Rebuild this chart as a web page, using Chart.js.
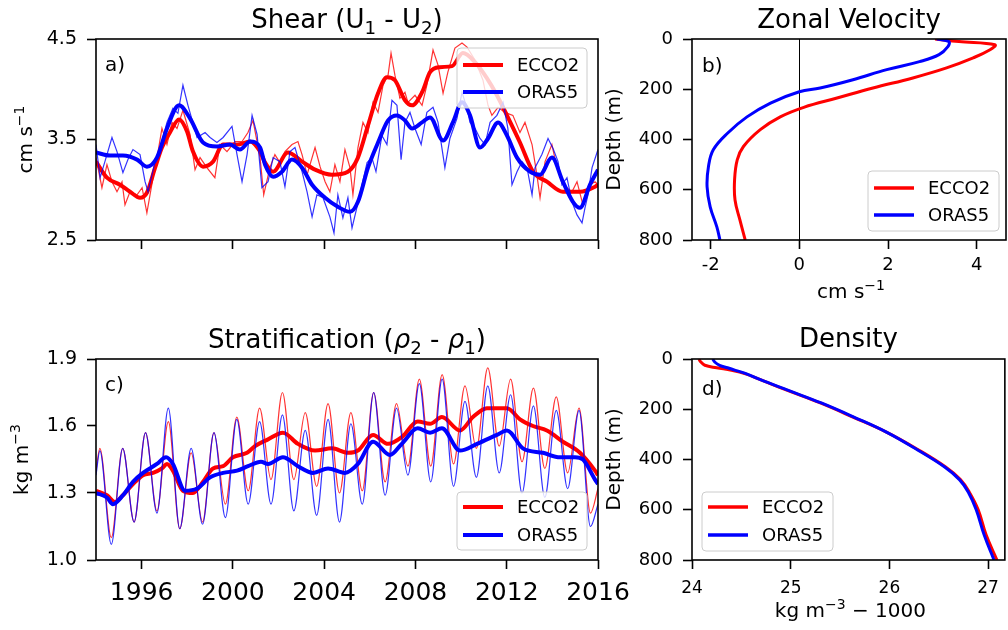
<!DOCTYPE html>
<html>
<head>
<meta charset="utf-8">
<title>ECCO2 / ORAS5 shear and stratification</title>
<script src="https://cdn.jsdelivr.net/npm/chart.js@4.4.1/dist/chart.umd.min.js"></script>
<style>
  html, body { margin: 0; padding: 0; background: #fff; }
  #fig { position: relative; width: 1008px; height: 630px; overflow: hidden; background: #fff; }
  #fig canvas { position: absolute; }
</style>
</head>
<body>
<div id="fig">
  <canvas id="shearChart" width="640" height="300" style="left:0;top:0;width:640px;height:300px"></canvas>
  <canvas id="stratChart" width="640" height="330" style="left:0;top:300px;width:640px;height:330px"></canvas>
  <canvas id="velChart" width="408" height="310" style="left:600px;top:0;width:408px;height:310px"></canvas>
  <canvas id="densChart" width="408" height="330" style="left:600px;top:300px;width:408px;height:330px"></canvas>
</div>
<script>
// ---- tick values / labels ----
const yearTicks = [1996, 2000, 2004, 2008, 2012, 2016];
const yearLabels = ['1996', '2000', '2004', '2008', '2012', '2016'];
const shearTicks = [2.5, 3.5, 4.5];
const shearLabels = ['2.5', '3.5', '4.5'];
const stratTicks = [1.0, 1.3, 1.6, 1.9];
const stratLabels = ['1.0', '1.3', '1.6', '1.9'];
const depthTicks = [0, 200, 400, 600, 800];
const depthLabels = ['0', '200', '400', '600', '800'];
const velTicks = [-2, 0, 2, 4];
const velLabels = ['-2', '0', '2', '4'];
const densTicks = [24, 25, 26, 27];
const densLabels = ['24', '25', '26', '27'];
const seriesNames = ['ECCO2', 'ORAS5'];

// ---- shear (U1 - U2), cm/s ----
const shearRawYearsEcco = [1994.00, 1994.26, 1994.48, 1994.70, 1994.92, 1995.14, 1995.27, 1995.49, 1995.80, 1996.02,
  1996.23, 1996.50, 1996.72, 1996.89, 1997.11, 1997.33, 1997.55, 1997.81, 1998.12, 1998.34,
  1998.56, 1998.86, 1999.21, 1999.43, 1999.74, 2000.09, 2000.40, 2000.66, 2000.88, 2001.19,
  2001.35, 2001.62, 2001.84, 2002.06, 2002.28, 2002.59, 2002.85, 2003.03, 2003.25, 2003.60,
  2003.82, 2004.04, 2004.25, 2004.47, 2004.69, 2004.91, 2005.13, 2005.26, 2005.48, 2005.70,
  2005.92, 2006.14, 2006.36, 2006.58, 2006.80, 2006.93, 2007.10, 2007.32, 2007.54, 2007.67,
  2007.98, 2008.29, 2008.50, 2008.77, 2008.99, 2009.21, 2009.42, 2009.73, 2010.04, 2010.26,
  2010.61, 2010.96, 2011.18, 2011.35, 2011.62, 2011.92, 2012.27, 2012.58, 2012.80, 2013.11,
  2013.32, 2013.46, 2013.68, 2013.98, 2014.20, 2014.46, 2014.86, 2015.08, 2015.34, 2015.65,
  2015.87, 2016.00];
const shearRawEcco = [3.32, 3.02, 3.25, 3.08, 2.98, 3.08, 2.85, 2.98, 2.95, 3.02,
  2.77, 3.12, 3.38, 3.61, 3.45, 3.67, 3.61, 3.79, 3.55, 3.20,
  3.32, 3.22, 3.12, 3.45, 3.38, 3.48, 3.48, 3.57, 3.69, 3.32,
  2.95, 3.22, 3.35, 3.27, 3.38, 3.45, 3.48, 3.35, 3.15, 3.42,
  3.23, 3.08, 2.98, 3.25, 3.08, 3.40, 3.22, 2.95, 3.42, 3.67,
  3.57, 3.87, 3.77, 4.04, 4.14, 4.36, 4.14, 3.91, 3.97, 3.87,
  3.94, 3.84, 4.04, 4.39, 4.24, 3.96, 4.17, 4.41, 4.46, 4.42,
  4.29, 4.09, 3.84, 3.74, 3.82, 3.77, 3.74, 3.57, 3.67, 3.45,
  3.15, 2.92, 3.28, 3.45, 3.22, 3.05, 2.98, 3.08, 2.85, 3.05,
  3.08, 3.05];

const shearRawYearsOras = [1994.00, 1994.18, 1994.39, 1994.70, 1994.92, 1995.18, 1995.40, 1995.62, 1995.93, 1996.15,
  1996.28, 1996.59, 1996.89, 1997.11, 1997.37, 1997.59, 1997.81, 1998.03, 1998.43, 1998.78,
  1999.00, 1999.30, 1999.57, 1999.96, 2000.18, 2000.40, 2000.62, 2000.84, 2001.06, 2001.27,
  2001.54, 2001.76, 2002.06, 2002.28, 2002.50, 2002.72, 2003.03, 2003.25, 2003.47, 2003.68,
  2003.95, 2004.25, 2004.43, 2004.60, 2004.82, 2005.04, 2005.22, 2005.44, 2005.66, 2005.88,
  2006.09, 2006.27, 2006.53, 2006.75, 2006.97, 2007.19, 2007.37, 2007.54, 2007.76, 2007.98,
  2008.25, 2008.50, 2008.77, 2008.99, 2009.29, 2009.51, 2009.82, 2010.04, 2010.26, 2010.39,
  2010.61, 2010.83, 2011.05, 2011.27, 2011.57, 2011.84, 2012.05, 2012.23, 2012.45, 2012.67,
  2012.89, 2013.11, 2013.24, 2013.54, 2013.81, 2014.03, 2014.25, 2014.42, 2014.64, 2014.86,
  2015.08, 2015.30, 2015.43, 2015.56, 2015.74, 2016.00];
const shearRawOras = [3.45, 3.12, 3.28, 3.52, 3.38, 3.17, 3.30, 3.40, 3.35, 3.08,
  2.98, 3.28, 3.48, 3.67, 3.81, 3.76, 4.04, 3.84, 3.52, 3.57,
  3.52, 3.47, 3.52, 3.63, 3.35, 3.08, 3.35, 3.74, 3.55, 3.02,
  3.08, 3.32, 3.28, 3.03, 3.38, 3.42, 3.18, 2.98, 2.73, 2.95,
  2.92, 2.73, 2.57, 2.95, 2.72, 2.92, 2.62, 2.83, 3.05, 3.27,
  3.32, 3.18, 3.54, 3.45, 3.89, 3.84, 3.30, 3.67, 3.77, 3.61,
  3.45, 3.77, 3.82, 3.67, 3.22, 3.51, 3.71, 3.97, 3.81, 3.67,
  3.61, 3.51, 3.45, 3.67, 3.74, 3.87, 3.61, 3.05, 3.18, 3.28,
  3.22, 2.95, 3.22, 3.35, 3.51, 3.41, 3.28, 3.05, 3.12, 2.88,
  2.75, 2.67, 2.82, 2.95, 3.22, 3.40];

const shearSmoothYearsEcco = [1994.00, 1994.48, 1995.05, 1995.49, 1995.93, 1996.23, 1996.59, 1996.89, 1997.24, 1997.64,
  1997.99, 1998.25, 1998.69, 1999.13, 1999.57, 2000.18, 2000.75, 2001.19, 2001.41, 2001.76,
  2002.41, 2003.03, 2003.60, 2004.34, 2005.04, 2005.48, 2005.92, 2006.36, 2006.75, 2007.10,
  2007.54, 2007.85, 2008.29, 2008.64, 2009.07, 2009.60, 2010.08, 2010.61, 2011.13, 2011.57,
  2012.01, 2012.58, 2013.15, 2013.76, 2014.46, 2015.21, 2015.87, 2016.00];
const shearSmoothEcco = [3.28, 3.12, 3.05, 2.98, 2.92, 2.97, 3.22, 3.42, 3.57, 3.70,
  3.58, 3.38, 3.23, 3.28, 3.45, 3.45, 3.48, 3.38, 3.27, 3.18,
  3.37, 3.28, 3.20, 3.15, 3.18, 3.32, 3.64, 3.96, 4.12, 4.09,
  3.89, 3.84, 3.97, 4.17, 4.22, 4.23, 4.36, 4.27, 4.11, 3.94,
  3.74, 3.47, 3.18, 3.08, 2.98, 2.98, 3.03, 3.05];

const shearSmoothYearsOras = [1994.00, 1994.61, 1995.18, 1995.80, 1996.23, 1996.67, 1997.11, 1997.64, 1998.12, 1998.69,
  1999.30, 1999.87, 2000.31, 2000.75, 2001.19, 2001.41, 2001.76, 2002.15, 2002.59, 2003.03,
  2003.47, 2004.04, 2004.60, 2005.13, 2005.48, 2005.92, 2006.36, 2006.80, 2007.19, 2007.54,
  2007.85, 2008.29, 2008.64, 2009.21, 2009.64, 2010.04, 2010.39, 2010.83, 2011.18, 2011.62,
  2012.01, 2012.45, 2013.02, 2013.46, 2013.98, 2014.46, 2014.90, 2015.21, 2015.65, 2016.00];
const shearSmoothOras = [3.37, 3.34, 3.34, 3.30, 3.23, 3.32, 3.61, 3.84, 3.71, 3.47,
  3.43, 3.45, 3.40, 3.48, 3.42, 3.25, 3.13, 3.18, 3.30, 3.22,
  3.05, 2.92, 2.83, 2.78, 2.88, 3.22, 3.47, 3.69, 3.74, 3.69,
  3.61, 3.67, 3.72, 3.49, 3.67, 3.87, 3.74, 3.42, 3.51, 3.67,
  3.54, 3.32, 3.18, 3.15, 3.32, 3.08, 2.88, 2.82, 3.05, 3.20];

// ---- stratification (rho2 - rho1), kg/m3 ----
// seasonal maxima / minima of the monthly series
const stratRawYears = [1994.00,
  1994.17, 1994.67, 1995.17, 1995.67, 1996.17, 1996.67, 1997.17, 1997.67, 1998.17, 1998.67,
  1999.17, 1999.67, 2000.17, 2000.67, 2001.17, 2001.67, 2002.17, 2002.67, 2003.17, 2003.67,
  2004.17, 2004.67, 2005.17, 2005.67, 2006.17, 2006.67, 2007.17, 2007.67, 2008.17, 2008.67,
  2009.17, 2009.67, 2010.17, 2010.67, 2011.17, 2011.67, 2012.17, 2012.67, 2013.17, 2013.67,
  2014.17, 2014.67, 2015.17, 2015.67, 2016.00];
const stratRawEcco = [1.40,
  1.50, 1.10, 1.50, 1.17, 1.57, 1.22, 1.62, 1.14, 1.48, 1.17,
  1.57, 1.25, 1.64, 1.31, 1.68, 1.36, 1.75, 1.36, 1.66, 1.33,
  1.70, 1.30, 1.66, 1.31, 1.75, 1.35, 1.70, 1.42, 1.81, 1.42,
  1.83, 1.43, 1.78, 1.50, 1.86, 1.51, 1.81, 1.44, 1.77, 1.41,
  1.73, 1.39, 1.68, 1.21, 1.32];
const stratRawOras = [1.38,
  1.49, 1.07, 1.50, 1.17, 1.57, 1.21, 1.68, 1.14, 1.50, 1.16,
  1.57, 1.19, 1.63, 1.25, 1.62, 1.25, 1.65, 1.22, 1.58, 1.20,
  1.63, 1.17, 1.61, 1.25, 1.75, 1.29, 1.68, 1.38, 1.79, 1.35,
  1.81, 1.33, 1.71, 1.37, 1.78, 1.39, 1.74, 1.30, 1.69, 1.28,
  1.67, 1.32, 1.67, 1.15, 1.25];

const stratSmoothYearsEcco = [1994.00, 1994.48, 1994.83, 1995.18, 1995.62, 1996.06, 1996.50, 1996.89, 1997.11, 1997.37,
  1997.81, 1998.25, 1998.69, 1999.13, 1999.57, 2000.00, 2000.62, 2000.97, 2001.54, 2002.19,
  2002.85, 2003.60, 2004.34, 2005.04, 2005.48, 2006.14, 2006.80, 2007.40, 2008.10, 2008.64,
  2009.16, 2009.95, 2010.52, 2011.13, 2012.01, 2012.58, 2013.15, 2013.76, 2014.46, 2015.21,
  2015.87, 2016.00];
const stratSmoothEcco = [1.31, 1.29, 1.26, 1.29, 1.34, 1.38, 1.39, 1.41, 1.43, 1.40,
  1.31, 1.30, 1.35, 1.41, 1.42, 1.46, 1.48, 1.51, 1.54, 1.57,
  1.52, 1.49, 1.50, 1.48, 1.49, 1.56, 1.52, 1.55, 1.62, 1.61,
  1.64, 1.58, 1.64, 1.68, 1.68, 1.63, 1.60, 1.58, 1.53, 1.48,
  1.40, 1.38];

const stratSmoothYearsOras = [1994.00, 1994.48, 1994.74, 1995.18, 1995.62, 1996.06, 1996.67, 1997.07, 1997.37, 1997.90,
  1998.43, 1999.00, 1999.57, 2000.18, 2000.66, 2001.23, 2001.54, 2002.19, 2002.85, 2003.51,
  2004.17, 2004.91, 2005.48, 2006.14, 2006.88, 2007.40, 2008.10, 2008.64, 2009.16, 2009.95,
  2010.70, 2011.57, 2012.01, 2012.71, 2013.59, 2014.33, 2014.99, 2015.34, 2015.87, 2016.00];
const stratSmoothOras = [1.30, 1.28, 1.25, 1.29, 1.35, 1.39, 1.43, 1.46, 1.43, 1.31,
  1.32, 1.37, 1.39, 1.40, 1.42, 1.44, 1.43, 1.46, 1.42, 1.39,
  1.41, 1.39, 1.43, 1.53, 1.47, 1.52, 1.59, 1.57, 1.59, 1.49,
  1.52, 1.56, 1.58, 1.50, 1.48, 1.46, 1.46, 1.45, 1.36, 1.34];

// ---- mean zonal velocity profiles (cm/s vs depth m) ----
const velDepthEcco = [0, 10, 23, 43, 75, 115, 155, 195, 235, 272, 310, 361, 428, 481, 561, 641, 720, 800];
const velEcco = [3.06, 3.60, 4.41, 4.30, 3.92, 3.32, 2.56, 1.66, 0.85, 0.10, -0.43, -0.88, -1.26, -1.40, -1.46, -1.45, -1.34, -1.22];
const velDepthOras = [0, 10, 30, 62, 90, 122, 162, 195, 210, 255, 310, 375, 441, 509, 588, 668, 748, 800];
const velOras = [3.10, 3.37, 3.35, 3.15, 2.71, 1.97, 1.21, 0.47, 0.00, -0.65, -1.18, -1.62, -1.94, -2.05, -2.08, -2.01, -1.86, -1.79];

// ---- mean density profiles (kg/m3 - 1000 vs depth m) ----
const densDepth = [0, 12, 25, 35, 45, 60, 80, 124, 175, 231, 291, 363, 430, 480, 530, 600, 700, 800];
const densEcco = [24.07, 24.09, 24.13, 24.25, 24.40, 24.55, 24.68, 24.96, 25.30, 25.63, 25.97, 26.30, 26.57, 26.72, 26.81, 26.90, 26.98, 27.09];
const densOras = [24.21, 24.23, 24.28, 24.36, 24.44, 24.56, 24.68, 24.97, 25.31, 25.64, 25.97, 26.29, 26.56, 26.71, 26.80, 26.88, 26.96, 27.06];

// ---- styling ----
const FONT = '"DejaVu Sans", sans-serif';
const RED = '#ff0000';
const BLUE = '#0000ff';
const RED_THIN = 'rgba(255,0,0,0.8)';
const BLUE_THIN = 'rgba(0,0,255,0.8)';

function pts(xs, ys) {
    return xs.map((x, i) => ({ x: x, y: ys[i] }));
}

// Draw text made of runs; runs can be subscript, superscript or italic
function drawRich(ctx, parts, x, y, size, align, rotate) {
    ctx.save();
    ctx.translate(x, y);
    if (rotate) ctx.rotate(-Math.PI / 2);
    ctx.fillStyle = '#000';
    ctx.textBaseline = 'alphabetic';
    ctx.textAlign = 'left';
    const runs = parts.map(p => {
        const s = (p.sub || p.sup) ? size * 0.7 : size;
        const font = (p.it ? 'italic ' : '') + s + 'px ' + FONT;
        ctx.font = font;
        return { t: p.t, font: font, w: ctx.measureText(p.t).width, dy: p.sub ? size * 0.22 : (p.sup ? -size * 0.42 : 0) };
    });
    const total = runs.reduce((s, r) => s + r.w, 0);
    let cx = align === 'center' ? -total / 2 : 0;
    runs.forEach(r => {
        ctx.font = r.font;
        ctx.fillText(r.t, cx, r.dy);
        cx += r.w;
    });
    ctx.restore();
}

function drawLegend(ctx, box, entries, lw) {
    const r = 4;
    ctx.save();
    ctx.beginPath();
    ctx.moveTo(box.x + r, box.y);
    ctx.arcTo(box.x + box.w, box.y, box.x + box.w, box.y + box.h, r);
    ctx.arcTo(box.x + box.w, box.y + box.h, box.x, box.y + box.h, r);
    ctx.arcTo(box.x, box.y + box.h, box.x, box.y, r);
    ctx.arcTo(box.x, box.y, box.x + box.w, box.y, r);
    ctx.closePath();
    ctx.fillStyle = 'rgba(255,255,255,0.8)';
    ctx.fill();
    ctx.strokeStyle = '#cccccc';
    ctx.lineWidth = 1;
    ctx.stroke();
    entries.forEach((e, i) => {
        const y = box.y + box.rows[i];
        ctx.beginPath();
        ctx.moveTo(box.x + 6, y);
        ctx.lineTo(box.x + 46, y);
        ctx.strokeStyle = e.color;
        ctx.lineWidth = lw;
        ctx.stroke();
        ctx.fillStyle = '#000';
        ctx.font = '18px ' + FONT;
        ctx.textBaseline = 'middle';
        ctx.fillText(e.label, box.x + 60, y + 1);
    });
    ctx.restore();
}

// Titles, spines, axis labels, panel letter and legend for one panel
function makeDecor(cfg) {
    return {
        id: 'decor',
        beforeDatasetsDraw(chart) {
            if (!cfg.zeroLine) return;
            const a = chart.chartArea;
            const px = Math.round(chart.scales.x.getPixelForValue(0)) + 0.5;
            const ctx = chart.ctx;
            ctx.save();
            ctx.strokeStyle = '#000';
            ctx.lineWidth = 1;
            ctx.beginPath();
            ctx.moveTo(px, a.top);
            ctx.lineTo(px, a.bottom);
            ctx.stroke();
            ctx.restore();
        },
        afterDraw(chart) {
            const ctx = chart.ctx;
            const a = chart.chartArea;
            ctx.save();
            ctx.strokeStyle = '#000';
            ctx.lineWidth = 1.6;
            ctx.strokeRect(a.left, a.top, a.right - a.left, a.bottom - a.top);
            ctx.restore();

            drawRich(ctx, cfg.title, (a.left + a.right) / 2, a.top - cfg.titleGap, 26, 'center');
            drawRich(ctx, cfg.ylabel, a.left - cfg.ylabelGap, (a.top + a.bottom) / 2, 20, 'center', true);
            if (cfg.xlabel) {
                drawRich(ctx, cfg.xlabel, (a.left + a.right) / 2 + 2, a.bottom + cfg.xlabelGap, 20, 'center');
            }
            ctx.save();
            ctx.fillStyle = '#000';
            ctx.font = '20px ' + FONT;
            ctx.textBaseline = 'alphabetic';
            ctx.fillText(cfg.letter, a.left + cfg.letterPos[0], a.top + cfg.letterPos[1]);
            ctx.restore();

            const lg = cfg.legend;
            const box = {
                x: lg.anchorRight ? a.right - lg.dx : a.left + lg.dx,
                y: lg.anchorBottom ? a.bottom - lg.dy : a.top + lg.dy,
                w: lg.w, h: lg.h, rows: lg.rows
            };
            drawLegend(ctx, box, [
                { label: seriesNames[0], color: RED },
                { label: seriesNames[1], color: BLUE }
            ], lg.lw);
        }
    };
}

function axis(o) {
    return {
        type: 'linear',
        min: o.min,
        max: o.max,
        reverse: !!o.reverse,
        afterBuildTicks: s => { s.ticks = o.ticks.map(v => ({ value: v })); },
        afterFit: s => {
            if (s.isHorizontal()) s.height = o.size; else s.width = o.size;
        },
        grid: { drawOnChartArea: false, drawTicks: true, tickLength: 9, tickWidth: 1.6, tickColor: '#000' },
        border: { display: false },
        ticks: {
            autoSkip: false,
            maxRotation: 0,
            minRotation: 0,
            color: '#000',
            padding: o.pad,
            font: { family: FONT, size: o.fontSize },
            callback: (v, i) => (o.labels ? o.labels[i] : '')
        }
    };
}

function line(data, color, width, order, smooth) {
    return {
        data: data,
        borderColor: color,
        borderWidth: width,
        showLine: true,
        pointRadius: 0,
        fill: false,
        order: order,
        tension: smooth === 'bezier' ? 0.4 : 0,
        cubicInterpolationMode: smooth === 'monotone' ? 'monotone' : 'default'
    };
}

function baseOptions(padding, scales) {
    return {
        responsive: false,
        animation: false,
        devicePixelRatio: 1,
        events: [],
        layout: { padding: padding },
        plugins: { legend: { display: false }, tooltip: { enabled: false } },
        scales: scales
    };
}

// a) shear time series
new Chart(document.getElementById('shearChart'), {
    type: 'scatter',
    data: {
        datasets: [
            line(pts(shearSmoothYearsOras, shearSmoothOras), BLUE, 4, 1, 'monotone'),
            line(pts(shearRawYearsOras, shearRawOras), BLUE_THIN, 1.2, 2),
            line(pts(shearSmoothYearsEcco, shearSmoothEcco), RED, 4, 3, 'monotone'),
            line(pts(shearRawYearsEcco, shearRawEcco), RED_THIN, 1.2, 4)
        ]
    },
    options: baseOptions({ left: 0, top: 39, right: 42, bottom: 0 }, {
        x: axis({ min: 1994, max: 2016, ticks: yearTicks, labels: null, size: 60, pad: 8, fontSize: 25 }),
        y: axis({ min: 2.5, max: 4.5, ticks: shearTicks, labels: shearLabels, size: 96, pad: 10, fontSize: 19 })
    }),
    plugins: [makeDecor({
        title: [{ t: 'Shear (U' }, { t: '1', sub: true }, { t: ' - U' }, { t: '2', sub: true }, { t: ')' }],
        titleGap: 11,
        ylabel: [{ t: 'cm s' }, { t: '\u22121', sup: true }],
        ylabelGap: 64,
        letter: 'a)',
        letterPos: [9, 32],
        legend: { anchorRight: true, dx: 141, dy: 9, w: 130, h: 60, rows: [17, 44], lw: 4 }
    })]
});

// c) stratification time series
new Chart(document.getElementById('stratChart'), {
    type: 'scatter',
    data: {
        datasets: [
            line(pts(stratSmoothYearsOras, stratSmoothOras), BLUE, 4, 1, 'monotone'),
            line(pts(stratRawYears, stratRawOras), BLUE_THIN, 1.2, 2, 'monotone'),
            line(pts(stratSmoothYearsEcco, stratSmoothEcco), RED, 4, 3, 'monotone'),
            line(pts(stratRawYears, stratRawEcco), RED_THIN, 1.2, 4, 'monotone')
        ]
    },
    options: baseOptions({ left: 0, top: 59, right: 42, bottom: 0 }, {
        x: axis({ min: 1994, max: 2016, ticks: yearTicks, labels: yearLabels, size: 70, pad: 9, fontSize: 25 }),
        y: axis({ min: 1.0, max: 1.9, ticks: stratTicks, labels: stratLabels, size: 96, pad: 10, fontSize: 19 })
    }),
    plugins: [makeDecor({
        title: [{ t: 'Stratification (' }, { t: '\u03c1', it: true }, { t: '2', sub: true }, { t: ' - ' },
                { t: '\u03c1', it: true }, { t: '1', sub: true }, { t: ')' }],
        titleGap: 11,
        ylabel: [{ t: 'kg m' }, { t: '\u22123', sup: true }],
        ylabelGap: 68,
        letter: 'c)',
        letterPos: [9, 32],
        legend: { anchorRight: true, anchorBottom: true, dx: 141, dy: 68, w: 130, h: 58, rows: [15, 43], lw: 4 }
    })]
});

// b) zonal velocity profile
new Chart(document.getElementById('velChart'), {
    type: 'scatter',
    data: {
        datasets: [
            line(pts(velOras, velDepthOras), BLUE, 3, 1, 'bezier'),
            line(pts(velEcco, velDepthEcco), RED, 3, 2, 'bezier')
        ]
    },
    options: baseOptions({ left: 0, top: 39, right: 2, bottom: 0 }, {
        x: axis({ min: -2.42, max: 4.66, ticks: velTicks, labels: velLabels, size: 70, pad: 6, fontSize: 18 }),
        y: axis({ min: 0, max: 800, reverse: true, ticks: depthTicks, labels: depthLabels, size: 92, pad: 10, fontSize: 18 })
    }),
    plugins: [makeDecor({
        title: [{ t: 'Zonal Velocity' }],
        titleGap: 11,
        ylabel: [{ t: 'Depth (m)' }],
        ylabelGap: 72,
        xlabel: [{ t: 'cm s' }, { t: '\u22121', sup: true }],
        xlabelGap: 58,
        zeroLine: true,
        letter: 'b)',
        letterPos: [10, 33],
        legend: { anchorRight: true, anchorBottom: true, dx: 138, dy: 69, w: 131, h: 60, rows: [17, 44], lw: 3.5 }
    })]
});

// d) density profile
new Chart(document.getElementById('densChart'), {
    type: 'scatter',
    data: {
        datasets: [
            line(pts(densOras, densDepth), BLUE, 3, 1, 'bezier'),
            line(pts(densEcco, densDepth), RED, 3, 2, 'bezier')
        ]
    },
    options: baseOptions({ left: 0, top: 59, right: 2, bottom: 0 }, {
        x: axis({ min: 24, max: 27.17, ticks: densTicks, labels: densLabels, size: 70, pad: 9, fontSize: 17 }),
        y: axis({ min: 0, max: 800, reverse: true, ticks: depthTicks, labels: depthLabels, size: 92, pad: 10, fontSize: 18 })
    }),
    plugins: [makeDecor({
        title: [{ t: 'Density' }],
        titleGap: 12,
        ylabel: [{ t: 'Depth (m)' }],
        ylabelGap: 72,
        xlabel: [{ t: 'kg m' }, { t: '\u22123', sup: true }, { t: ' \u2212 1000' }],
        xlabelGap: 57,
        letter: 'd)',
        letterPos: [10, 36],
        legend: { anchorBottom: true, dx: 10, dy: 68, w: 131, h: 59, rows: [15, 43], lw: 3.5 }
    })]
});
</script>
</body>
</html>
